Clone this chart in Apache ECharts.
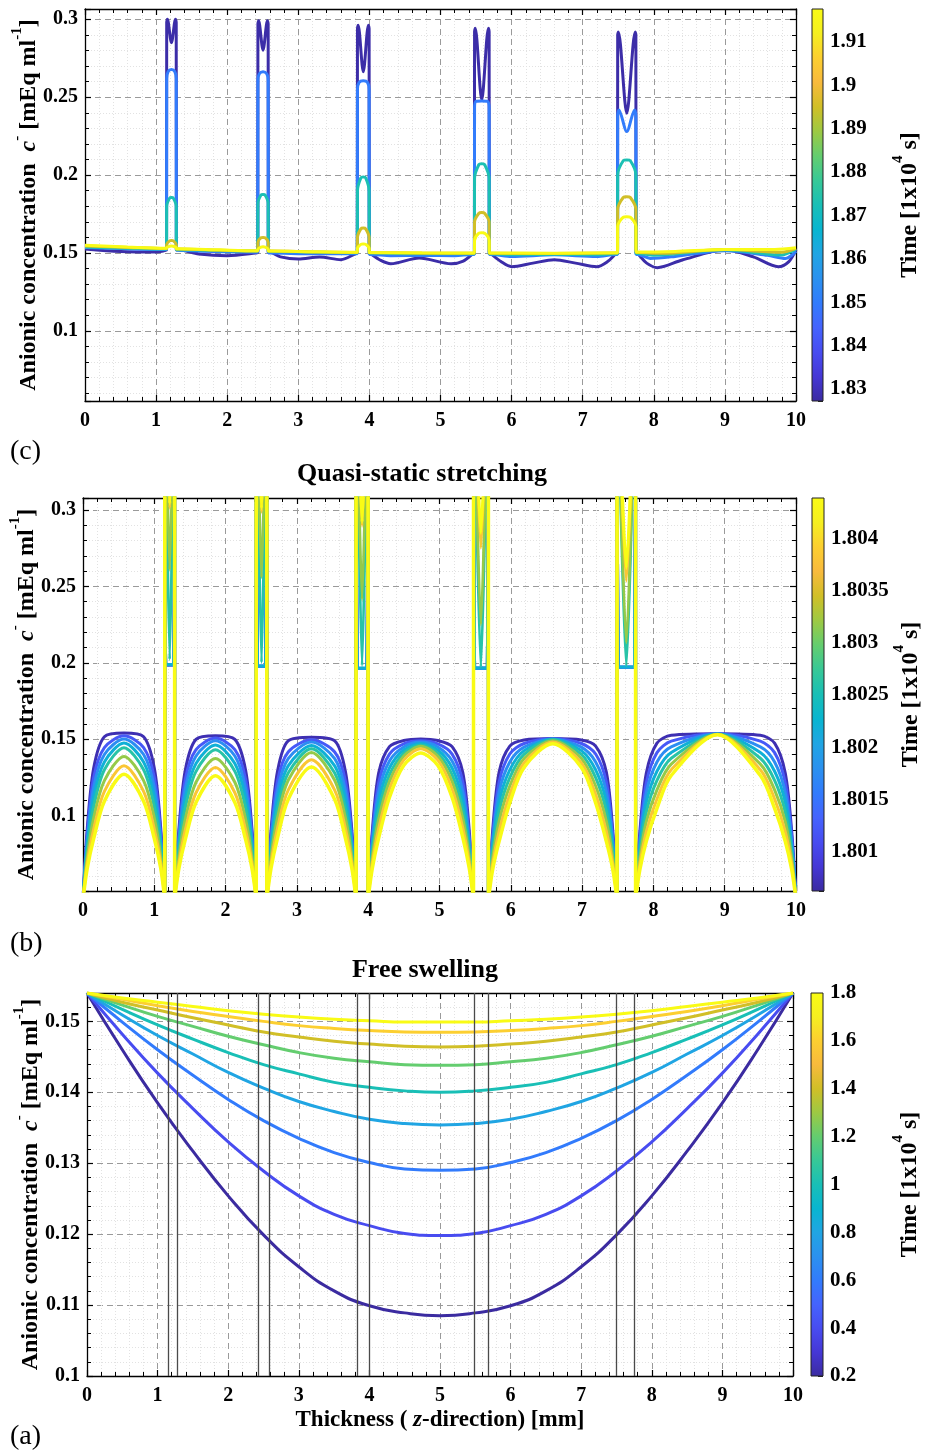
<!DOCTYPE html>
<html><head><meta charset="utf-8">
<script src="https://cdn.jsdelivr.net/npm/echarts@6/dist/echarts.min.js"></script>
<style>html,body{margin:0;padding:0;background:#fff}#c{width:927px;height:1454px}</style>
</head><body><div id="c"></div>
<script>
// ---------------- DATA ----------------
// layer (interface) positions along thickness [mm]
const layers = [[1.147,1.285],[2.43,2.578],[3.83,3.998],[5.477,5.686],[7.49,7.75]];
const layerMid = [1.216,2.504,3.914,5.58,7.62];

// (c) relaxation, time [1e4 s]
const relaxTimes = [1.828, 1.85, 1.873, 1.895, 1.9176];
const relax0 = [
[0,.1526],[0.5,.151],[1.0,.1506],[1.12,.1515],
[1.147,.152],[1.149,.298],[1.159,.300],[1.216,.285],[1.273,.300],[1.283,.298],[1.285,.152],
[1.31,.152],[1.6,.1494],[2.0,.1483],[2.4,.150],
[2.43,.1505],[2.432,.297],[2.442,.299],[2.504,.2802],[2.566,.299],[2.576,.297],[2.578,.1505],
[2.6,.1505],[2.75,.1475],[3.0,.1461],[3.3,.1474],[3.6,.1457],[3.8,.1495],
[3.83,.1505],[3.832,.294],[3.842,.2962],[3.914,.2663],[3.986,.2962],[3.996,.294],[3.998,.1505],
[4.02,.1495],[4.15,.1455],[4.3,.1431],[4.7,.1468],[5.15,.1431],[5.32,.1448],[5.455,.1495],
[5.477,.1505],[5.479,.292],[5.489,.2942],[5.58,.2483],[5.674,.2942],[5.684,.292],[5.686,.1505],
[5.71,.1495],[5.85,.1445],[6.0,.1412],[6.3,.1435],[6.6,.1457],[6.9,.1435],[7.2,.1412],[7.35,.1445],[7.465,.1495],
[7.49,.1505],[7.492,.290],[7.502,.2918],[7.62,.2397],[7.738,.2918],[7.748,.290],[7.75,.1505],
[7.775,.1495],[7.9,.1435],[8.05,.1406],[8.4,.1455],[9.0,.1521],[9.4,.1475],[9.75,.1412],[9.9,.1445],[10,.1521]
];
const relax1 = [
[0,.1535],[0.5,.1528],[1.12,.1522],
[1.147,.1522],[1.149,.262],[1.17,.2665],[1.216,.2677],[1.262,.2665],[1.283,.262],[1.285,.152],
[1.31,.1518],[1.9,.1508],[2.41,.1505],
[2.43,.1505],[2.432,.261],[2.452,.265],[2.504,.2663],[2.556,.265],[2.576,.261],[2.578,.150],
[2.6,.150],[3.2,.1495],[3.81,.1495],
[3.83,.1495],[3.832,.255],[3.855,.2595],[3.914,.2606],[3.973,.2595],[3.996,.255],[3.998,.149],
[4.02,.149],[4.3,.1483],[4.74,.1485],[5.2,.1483],[5.455,.149],
[5.477,.149],[5.479,.243],[5.5,.2473],[5.58,.2475],[5.66,.2473],[5.684,.243],[5.686,.149],
[5.71,.149],[6.0,.1478],[6.6,.1488],[7.2,.1478],[7.465,.149],
[7.49,.149],[7.492,.238],[7.51,.2418],[7.62,.2279],[7.73,.2418],[7.748,.238],[7.75,.149],
[7.775,.149],[7.95,.1465],[8.3,.1478],[9.0,.1515],[9.6,.1485],[9.85,.1465],[10,.151]
];
const relax2 = [
[0,.1538],[0.6,.1531],[1.12,.1525],
[1.147,.1525],[1.149,.18],[1.19,.1852],[1.216,.1856],[1.242,.1852],[1.283,.18],[1.285,.152],
[1.31,.152],[1.9,.1515],[2.41,.1512],
[2.43,.1512],[2.432,.182],[2.475,.1872],[2.504,.1876],[2.533,.1872],[2.576,.182],[2.578,.151],
[2.6,.151],[3.2,.1505],[3.81,.1502],
[3.83,.1502],[3.832,.19],[3.88,.1982],[3.914,.1988],[3.948,.1982],[3.996,.19],[3.998,.150],
[4.02,.150],[4.74,.1495],[5.455,.1495],
[5.477,.1495],[5.479,.198],[5.54,.2068],[5.58,.2073],[5.62,.2068],[5.684,.198],[5.686,.1495],
[5.71,.1495],[6.0,.1488],[6.6,.1492],[7.2,.1488],[7.465,.1495],
[7.49,.1495],[7.492,.200],[7.57,.2092],[7.62,.2097],[7.67,.2092],[7.748,.200],[7.75,.1497],
[7.775,.1497],[8.0,.1485],[9.0,.152],[9.8,.1487],[10,.1525]
];
const relax3 = [
[0,.1545],[0.6,.1536],[1.12,.1528],
[1.147,.1528],[1.149,.1555],[1.19,.1578],[1.216,.158],[1.242,.1578],[1.283,.1555],[1.285,.1525],
[1.31,.1525],[1.9,.1518],[2.41,.1513],
[2.43,.1513],[2.432,.157],[2.475,.1598],[2.504,.160],[2.533,.1598],[2.576,.157],[2.578,.1512],
[2.6,.1512],[3.2,.1507],[3.81,.1503],
[3.83,.1503],[3.832,.160],[3.88,.1655],[3.914,.166],[3.948,.1655],[3.996,.160],[3.998,.1502],
[4.02,.1502],[4.74,.1499],[5.455,.1498],
[5.477,.1498],[5.479,.170],[5.54,.1755],[5.58,.176],[5.62,.1755],[5.684,.170],[5.686,.1498],
[5.71,.1498],[6.6,.1496],[7.465,.150],
[7.49,.150],[7.492,.178],[7.57,.1856],[7.62,.1861],[7.67,.1856],[7.748,.178],[7.75,.1503],
[7.775,.1503],[8.1,.1498],[9.0,.1522],[9.8,.1505],[10,.153]
];
const relax4 = [
[0,.1549],[0.6,.1538],[1.12,.153],
[1.147,.153],[1.149,.1535],[1.19,.1543],[1.216,.1545],[1.242,.1543],[1.283,.1535],[1.285,.1527],
[1.31,.1527],[1.9,.152],[2.41,.1515],
[2.43,.1515],[2.432,.1525],[2.475,.1538],[2.504,.154],[2.533,.1538],[2.576,.1525],[2.578,.1513],
[2.6,.1513],[3.2,.1508],[3.81,.1505],
[3.83,.1505],[3.832,.153],[3.88,.1555],[3.914,.1558],[3.948,.1555],[3.996,.153],[3.998,.1503],
[4.02,.1503],[4.74,.1501],[5.455,.150],
[5.477,.150],[5.479,.158],[5.54,.1627],[5.58,.163],[5.62,.1627],[5.684,.158],[5.686,.150],
[5.71,.150],[6.6,.1499],[7.465,.1502],
[7.49,.1502],[7.492,.167],[7.57,.1730],[7.62,.1733],[7.67,.1730],[7.748,.167],[7.75,.1506],
[7.775,.1506],[8.3,.151],[9.0,.1523],[9.7,.1523],[10,.1533]
];

// (b) quasi-static stretching
const stretchTimes = [1.8007, 1.80122, 1.80175, 1.8022, 1.80262, 1.80318, 1.80382, 1.80439];
const stretchDomeX = [
 [0,0.06,0.15,0.3,0.575,0.85,1.0,1.09,1.147],
 [1.285,1.345,1.435,1.585,1.857,2.13,2.28,2.37,2.43],
 [2.578,2.638,2.728,2.878,3.204,3.53,3.68,3.77,3.83],
 [3.998,4.058,4.148,4.298,4.498,4.737,4.977,5.177,5.327,5.417,5.477],
 [5.686,5.746,5.836,5.986,6.186,6.588,6.99,7.19,7.34,7.43,7.49],
 [7.75,7.81,7.9,8.05,8.25,8.9,9.5,9.7,9.85,9.94,10]
];
const stretchY0 = [
 [.045,.0916,.1310,.1515,.1539,.1515,.1310,.0916,.045],
 [.045,.0909,.1297,.1498,.1522,.1498,.1297,.0909,.045],
 [.045,.0904,.1289,.1488,.1511,.1488,.1289,.0904,.045],
 [.045,.0900,.1280,.1450,.1490,.1500,.1490,.1450,.1280,.0900,.045],
 [.045,.0902,.1283,.1454,.1494,.1504,.1494,.1454,.1283,.0902,.045],
 [.045,.0893,.1276,.1473,.1525,.1535,.1525,.1473,.1276,.0893,.045]
];
const stretchY1 = [
 [.045,.0879,.1249,.1444,.1522,.1444,.1249,.0879,.045],
 [.045,.0874,.1238,.1430,.1507,.1430,.1238,.0874,.045],
 [.045,.0868,.1226,.1415,.1495,.1415,.1226,.0868,.045],
 [.045,.0863,.1216,.1401,.1468,.1489,.1468,.1401,.1216,.0863,.045],
 [.045,.0865,.1218,.1402,.1471,.1502,.1471,.1402,.1218,.0865,.045],
 [.045,.0858,.1212,.1411,.1486,.1534,.1486,.1411,.1212,.0858,.045]
];
const stretchY2 = [
 [.045,.0843,.1186,.1399,.1500,.1399,.1186,.0843,.045],
 [.045,.0839,.1178,.1389,.1489,.1389,.1178,.0839,.045],
 [.045,.0833,.1166,.1372,.1480,.1372,.1166,.0833,.045],
 [.045,.0827,.1156,.1356,.1448,.1480,.1448,.1356,.1156,.0827,.045],
 [.045,.0829,.1154,.1350,.1447,.1500,.1447,.1350,.1154,.0829,.045],
 [.045,.0821,.1148,.1350,.1449,.1533,.1449,.1350,.1148,.0821,.045]
];
const stretchY3 = [
 [.045,.0806,.1122,.1350,.1474,.1350,.1122,.0806,.045],
 [.045,.0802,.1114,.1339,.1461,.1339,.1114,.0802,.045],
 [.045,.0797,.1104,.1324,.1458,.1324,.1104,.0797,.045],
 [.045,.0792,.1095,.1310,.1428,.1471,.1428,.1310,.1095,.0792,.045],
 [.045,.0792,.1090,.1298,.1424,.1498,.1424,.1298,.1090,.0792,.045],
 [.045,.0786,.1085,.1289,.1412,.1533,.1412,.1289,.1085,.0786,.045]
];
const stretchY4 = [
 [.045,.0770,.1057,.1299,.1443,.1299,.1057,.0770,.045],
 [.045,.0766,.1050,.1288,.1430,.1288,.1050,.0766,.045],
 [.045,.0762,.1043,.1277,.1436,.1277,.1043,.0762,.045],
 [.045,.0759,.1035,.1265,.1407,.1461,.1407,.1265,.1035,.0759,.045],
 [.045,.0756,.1027,.1247,.1400,.1496,.1400,.1247,.1027,.0756,.045],
 [.045,.0751,.1020,.1229,.1374,.1532,.1374,.1229,.1020,.0751,.045]
];
const stretchY5 = [
 [.045,.0728,.0982,.1227,.1386,.1227,.0982,.0728,.045],
 [.045,.0724,.0975,.1217,.1373,.1217,.0975,.0724,.045],
 [.045,.0728,.0983,.1230,.1412,.1230,.0983,.0728,.045],
 [.045,.0725,.0977,.1221,.1388,.1452,.1388,.1221,.0977,.0725,.045],
 [.045,.0719,.0961,.1192,.1373,.1489,.1373,.1192,.0961,.0719,.045],
 [.045,.0715,.0957,.1167,.1336,.1531,.1336,.1167,.0957,.0715,.045]
];
const stretchY6 = [
 [.045,.0689,.0910,.1157,.1325,.1157,.0910,.0689,.045],
 [.045,.0686,.0905,.1148,.1314,.1148,.0905,.0686,.045],
 [.045,.0690,.0915,.1165,.1364,.1165,.0915,.0690,.045],
 [.045,.0690,.0917,.1173,.1362,.1436,.1362,.1173,.0917,.0690,.045],
 [.045,.0682,.0895,.1137,.1344,.1480,.1344,.1137,.0895,.0682,.045],
 [.045,.0679,.0892,.1107,.1299,.1530,.1299,.1107,.0892,.0679,.045]
];
const stretchY7 = [
 [.045,.0654,.0847,.1093,.1270,.1093,.0847,.0654,.045],
 [.045,.0652,.0842,.1084,.1259,.1084,.0842,.0652,.045],
 [.045,.0655,.0851,.1104,.1316,.1104,.0851,.0655,.045],
 [.045,.0654,.0854,.1117,.1326,.1408,.1326,.1117,.0854,.0654,.045],
 [.045,.0645,.0829,.1081,.1314,.1469,.1314,.1081,.0829,.0645,.045],
 [.045,.0644,.0829,.1045,.1261,.1528,.1261,.1045,.0829,.0644,.045]
];
// minimum concentration inside each thin layer, per curve
const stretchLayerMin = [
 [.1985,.1977,.1963,.1964,.1970],
 [.1985,.1977,.1963,.1964,.1970],
 [.1985,.1977,.1963,.1964,.1970],
 [.1988,.1979,.1965,.1966,.1972],
 [.2020,.2000,.1980,.1970,.1980],
 [.2607,.2558,.2413,.2249,.2131],
 [.3013,.2987,.2895,.2751,.2535],
 [.3040,.3010,.2920,.2850,.2620]
];
const layerWallTop = 0.42;   // value at layer walls (above plotted range)

// (a) free swelling
const freeTimes = [0.2,0.4,0.6,0.8,1.0,1.2,1.4,1.6,1.8];
const freeX = [0,0.5,1,1.5,2,2.5,3,3.5,4,4.5,5,5.5,6,6.5,7,7.5,8,8.5,9,9.5,10];
const freeC02 = [.154,.1460,.1385,.1317,.1254,.1199,.1154,.1120,.1099,.1089,.1085,.1089,.1099,.1120,.1154,.1199,.1254,.1317,.1385,.1460,.154];
const freeC04 = [.154,.1482,.1427,.1377,.1330,.1289,.1254,.1228,.1212,.1201,.1198,.1201,.1212,.1228,.1254,.1289,.1330,.1377,.1427,.1482,.154];
const freeC06 = [.154,.1499,.1460,.1424,.1390,.1360,.1335,.1315,.1301,.1292,.1290,.1292,.1301,.1315,.1335,.1360,.1390,.1424,.1460,.1499,.154];
const freeC08 = [.154,.1509,.1480,.1454,.1428,.1406,.1387,.1373,.1362,.1356,.1354,.1356,.1362,.1373,.1387,.1406,.1428,.1454,.1480,.1509,.154];
const freeC10 = [.154,.1517,.1495,.1475,.1456,.1439,.1426,.1414,.1407,.1402,.1400,.1402,.1407,.1414,.1426,.1439,.1456,.1475,.1495,.1517,.154];
const freeC12 = [.154,.1523,.1507,.1493,.1479,.1467,.1456,.1448,.1443,.1439,.1438,.1439,.1443,.1448,.1456,.1467,.1479,.1493,.1507,.1523,.154];
const freeC14 = [.154,.1527,.1516,.1505,.1495,.1485,.1478,.1472,.1468,.1465,.1464,.1465,.1468,.1472,.1478,.1485,.1495,.1505,.1516,.1527,.154];
const freeC16 = [.154,.1531,.1522,.1514,.1507,.1500,.1494,.1490,.1487,.1485,.14845,.1485,.1487,.1490,.1494,.1500,.1507,.1514,.1522,.1531,.154];
const freeC18 = [.154,.1533,.1527,.1521,.1515,.1510,.1506,.1503,.1501,.1499,.1499,.1499,.1501,.1503,.1506,.1510,.1515,.1521,.1527,.1533,.154];

// colour bar ranges
const cbRangeC = [1.8272, 1.9176];
const cbRangeB = [1.80062, 1.80439];
const cbRangeA = [0.2, 1.8];

// ---------------- STYLE / HELPERS ----------------
const FONT = '"Liberation Serif","Times New Roman",serif';
const parula = ['#3b2ba0','#4537d5','#484cf0','#4563fd','#327bfc','#2b91ef','#20a5e3','#08b5d0','#19bfb6','#37c897','#64cd6f','#9dc943','#d1bf27','#f8ba3d','#fccf30','#f5ef20','#f9fb15'];
function hex2rgb(h){return [parseInt(h.substr(1,2),16),parseInt(h.substr(3,2),16),parseInt(h.substr(5,2),16)];}
function cmap(v){
  v=Math.max(0,Math.min(1,v)); const n=parula.length-1; const p=v*n;
  const i=Math.min(n-1,Math.floor(p)); const f=p-i;
  const a=hex2rgb(parula[i]), b=hex2rgb(parula[i+1]);
  return 'rgb('+a.map((c,j)=>Math.round(c+(b[j]-c)*f)).join(',')+')';
}
const gradStops = parula.map((c,i)=>({offset:i/(parula.length-1), color:c}));
function isMult(v,s){const r=v/s;return Math.abs(r-Math.round(r))<1e-4;}
function fmt(v){return String(parseFloat(v.toFixed(5)));}

const tickStyle = {color:'#000', width:1.2};
const rich = {
  t:{fontFamily:FONT,fontWeight:'bold',fontSize:24,color:'#000',lineHeight:31,verticalAlign:'bottom'},
  i:{fontFamily:FONT,fontWeight:'bold',fontStyle:'italic',fontSize:24,color:'#000',lineHeight:31,verticalAlign:'bottom'},
  s:{fontFamily:FONT,fontWeight:'bold',fontSize:15,color:'#000',lineHeight:31,verticalAlign:'top'}
};
const yName = '{t|Anionic concentration  }{i|c}{s|-}{t| [mEq ml}{s|-1}{t|]}';

function xAx(grid,pos,labels,name){
  const o = {type:'value',gridIndex:grid,min:0,max:10,interval:1,position:pos,
    axisLine:{show:true,onZero:false,lineStyle:{color:'#000',width:1.3}},
    axisTick:{show:true,inside:true,length:6,lineStyle:tickStyle},
    minorTick:{show:true,splitNumber:5,length:4,lineStyle:{color:'#000',width:1}},
    axisLabel:{show:labels,margin:10,fontFamily:FONT,fontWeight:'bold',fontSize:20,color:'#000'},
    splitLine:{show:labels,lineStyle:{color:'#9a9a9a',type:[6,4],width:1}},
    minorSplitLine:{show:labels,lineStyle:{color:'#e2e2e2',type:[1,2],width:1}}
  };
  if(name){o.name=name.text;o.nameLocation='middle';o.nameGap=name.gap;o.nameMoveOverlap=false;o.nameTextStyle={rich:name.rich};}
  return o;
}
function yAx(grid,pos,min,max,step,labels,withName){
  const o = {type:'value',gridIndex:grid,min:min,max:max,minInterval:step,maxInterval:step,splitNumber:6,position:pos,
    axisLine:{show:true,onZero:false,lineStyle:{color:'#000',width:1.3}},
    axisTick:{show:true,inside:true,length:6,lineStyle:tickStyle},
    minorTick:{show:true,splitNumber:5,length:4,lineStyle:{color:'#000',width:1}},
    axisLabel:{show:labels,margin:7,fontFamily:FONT,fontWeight:'bold',fontSize:20,color:'#000',
      formatter:v=>isMult(v,step)?fmt(v):''},
    splitLine:{show:labels,lineStyle:{color:'#9a9a9a',type:[6,4],width:1}},
    minorSplitLine:{show:labels,lineStyle:{color:'#e2e2e2',type:[1,2],width:1}}
  };
  if(withName){o.name=yName;o.nameLocation='middle';o.nameGap=44;o.nameRotate=90;o.nameMoveOverlap=false;o.nameTextStyle={rich:rich};}
  return o;
}
function cbX(grid){return {type:'value',gridIndex:grid,min:0,max:1,show:false};}
function cbY(grid,range,step){
  return {type:'value',gridIndex:grid,min:range[0],max:range[1],minInterval:step,maxInterval:step,splitNumber:10,position:'right',
    axisLine:{show:false,onZero:false},
    axisTick:{show:true,inside:true,length:5,lineStyle:{color:'#222',width:1}},
    axisLabel:{show:true,margin:7,fontFamily:FONT,fontWeight:'bold',fontSize:21,color:'#000',
      formatter:v=>isMult(v,step)?fmt(v):''},
    splitLine:{show:false},
    name:'{t|Time [1x10}{s|4}{t| s]}',nameLocation:'middle',nameRotate:90,nameGap:68,nameMoveOverlap:false,
    nameTextStyle:{rich:rich}
  };
}
function cbRender(params,api){
  const lo=api.coord([0,api.value(2)]), hi=api.coord([1,api.value(3)]);
  return {type:'rect',shape:{x:lo[0],y:hi[1],width:hi[0]-lo[0],height:lo[1]-hi[1]},
    style:{fill:new echarts.graphic.LinearGradient(0,1,0,0,gradStops),stroke:'#222',lineWidth:1}};
}
function cbSeries(ax,range){
  return {type:'custom',xAxisIndex:ax,yAxisIndex:ax,renderItem:cbRender,silent:true,
    encode:{x:[0,1],y:[2,3]},data:[[0,1,range[0],range[1]]]};
}
function lineS(ax,data,color,smooth,w){
  return {type:'line',xAxisIndex:ax,yAxisIndex:ax,data:data,showSymbol:false,symbol:'none',smooth:smooth,
    clip:true,silent:true,lineStyle:{color:color,width:w||3},emphasis:{disabled:true}};
}
function norm(t,r){return (t-r[0])/(r[1]-r[0]);}

// ---------------- SERIES ----------------
const series = [];
// (c)
[relax0,relax1,relax2,relax3,relax4].forEach((d,k)=>{
  series.push(lineS(0,d,cmap(norm(relaxTimes[k],cbRangeC)),0.3));
});
series.push(cbSeries(2,cbRangeC));
// (b)
const stretchY=[stretchY0,stretchY1,stretchY2,stretchY3,stretchY4,stretchY5,stretchY6,stretchY7];
stretchY.forEach((yy,k)=>{
  const pts=[];
  for(let j=0;j<stretchDomeX.length;j++){
    stretchDomeX[j].forEach((x,i)=>pts.push([x,yy[j][i]]));
    if(j<layers.length){
      const xl=layers[j][0], xr=layers[j][1], m=stretchLayerMin[k][j];
      pts.push([xl,layerWallTop]);
      if(k<=3){pts.push([xl+0.015,m]);pts.push([xr-0.015,m]);}
      else pts.push([layerMid[j],m]);
      pts.push([xr,layerWallTop]);
    }
  }
  series.push(lineS(3,pts,cmap(norm(stretchTimes[k],cbRangeB)),0.3,k===7?3.5:3));
});
series.push(cbSeries(5,cbRangeB));
// (a)
series.push({type:'line',xAxisIndex:6,yAxisIndex:6,data:[],silent:true,
  markLine:{silent:true,symbol:['none','none'],label:{show:false},animation:false,
    lineStyle:{color:'#4a4a4a',width:1.3,type:'solid'},
    data:layers.flat().map(x=>({xAxis:x}))}});
[freeC02,freeC04,freeC06,freeC08,freeC10,freeC12,freeC14,freeC16,freeC18].forEach((yy,k)=>{
  series.push(lineS(6,freeX.map((x,i)=>[x,yy[i]]),cmap(norm(freeTimes[k],cbRangeA)),0.5));
});
series.push(cbSeries(8,cbRangeA));

const option = {
  animation:false,
  backgroundColor:'#fff',
  title:[
    {text:'Quasi-static stretching',left:422,top:461,textAlign:'center',padding:0,textStyle:{fontFamily:FONT,fontWeight:'bold',fontSize:26,color:'#000'}},
    {text:'Free swelling',left:425,top:957,textAlign:'center',padding:0,textStyle:{fontFamily:FONT,fontWeight:'bold',fontSize:26,color:'#000'}},
    {text:'(c)',left:10,top:438,padding:0,textStyle:{fontFamily:FONT,fontWeight:'normal',fontSize:28,color:'#000'}},
    {text:'(b)',left:10,top:930,padding:0,textStyle:{fontFamily:FONT,fontWeight:'normal',fontSize:28,color:'#000'}},
    {text:'(a)',left:10,top:1423,padding:0,textStyle:{fontFamily:FONT,fontWeight:'normal',fontSize:28,color:'#000'}}
  ],
  grid:[
    {left:85,top:9,width:711,height:392,outerBoundsMode:'none'},
    {left:812,top:9,width:11,height:392,outerBoundsMode:'none'},
    {left:83,top:498,width:713,height:393,outerBoundsMode:'none'},
    {left:812,top:498,width:12,height:393,outerBoundsMode:'none'},
    {left:87,top:993,width:706,height:383,outerBoundsMode:'none'},
    {left:811,top:993,width:12,height:383,outerBoundsMode:'none'}
  ],
  xAxis:[
    xAx(0,'bottom',true), xAx(0,'top',false), cbX(1),
    xAx(2,'bottom',true), xAx(2,'top',false), cbX(3),
    xAx(4,'bottom',true,{text:'{t|Thickness ( }{i|z}{t|-direction) [mm]}',gap:33,rich:{
      t:{fontFamily:FONT,fontWeight:'bold',fontSize:23,color:'#000'},
      i:{fontFamily:FONT,fontWeight:'bold',fontStyle:'italic',fontSize:23,color:'#000'}}}),
    xAx(4,'top',false), cbX(5)
  ],
  yAxis:[
    yAx(0,'left',0.055,0.3066,0.05,true,true), yAx(0,'right',0.055,0.3066,0.05,false,false), cbY(1,cbRangeC,0.01),
    yAx(2,'left',0.0504,0.308,0.05,true,true), yAx(2,'right',0.0504,0.308,0.05,false,false), cbY(3,cbRangeB,0.0005),
    yAx(4,'left',0.1,0.154,0.01,true,true), yAx(4,'right',0.1,0.154,0.01,false,false), cbY(5,cbRangeA,0.2)
  ],
  series:series
};
const chart = echarts.init(document.getElementById('c'),null,{renderer:'canvas'});
chart.setOption(option);
</script>
</body></html>
